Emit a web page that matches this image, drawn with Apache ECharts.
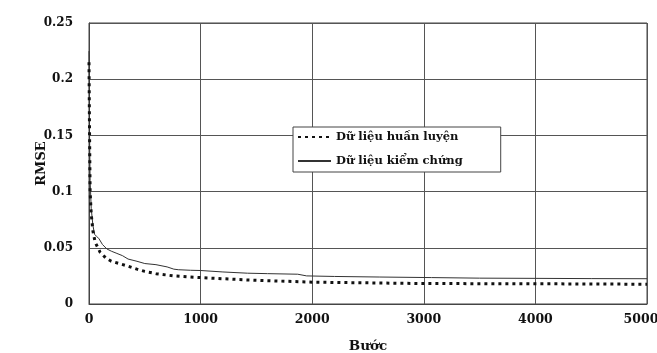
<!DOCTYPE html>
<html><head><meta charset="utf-8">
<script src="https://cdn.jsdelivr.net/npm/echarts@6/dist/echarts.min.js"></script>
<style>html,body{margin:0;padding:0;background:#fff}#c{width:657px;height:353px}</style>
</head><body><div id="c"></div>
<script>
const xTicks = [0, 1000, 2000, 3000, 4000, 5000];
const yTicks = [0, 0.05, 0.1, 0.15, 0.2, 0.25];
const seriesNames = ['Dữ liệu huấn luyện', 'Dữ liệu kiểm chứng'];
const trainSteps = [0, 5, 10, 20, 35, 55, 80, 100, 150, 200, 340, 430, 500, 600, 760, 1000, 1420, 2000, 3000, 4000, 5000];
const trainRmse = [0.215, 0.15, 0.1, 0.08, 0.065, 0.055, 0.05, 0.046, 0.041, 0.038, 0.034, 0.031, 0.029, 0.027, 0.025, 0.0235, 0.0214, 0.0194, 0.0182, 0.018, 0.0176];
const valSteps = [0, 5, 10, 20, 35, 50, 70, 90, 120, 160, 200, 250, 300, 350, 430, 500, 600, 700, 760, 800, 910, 1000, 1200, 1420, 1600, 1870, 1950, 2200, 2600, 3070, 3500, 4000, 4500, 5000];
const valRmse = [0.225, 0.15, 0.11, 0.085, 0.07, 0.062, 0.06, 0.058, 0.053, 0.049, 0.047, 0.045, 0.043, 0.04, 0.038, 0.036, 0.035, 0.033, 0.031, 0.0305, 0.030, 0.0298, 0.0285, 0.0274, 0.027, 0.0265, 0.025, 0.0245, 0.024, 0.0235, 0.023, 0.0228, 0.0226, 0.0225];

const font = '"DejaVu Serif", "Liberation Serif", serif';
const xMax = xTicks[xTicks.length - 1];
const chart = echarts.init(document.getElementById('c'), null, {renderer: 'canvas'});
chart.setOption({
  animation: false,
  backgroundColor: '#fff',
  grid: {left: 89, right: 10, top: 23, bottom: 49, show: true, borderColor: '#444', borderWidth: 1,
    containLabel: false, outerBoundsMode: 'none'},
  legend: {
    orient: 'vertical', left: 293, top: 127,
    padding: [4, 38, 5, 4], itemGap: 12, itemWidth: 33, itemHeight: 14,
    backgroundColor: '#fff', borderColor: '#444', borderWidth: 1,
    itemStyle: {opacity: 0},
    textStyle: {fontFamily: font, fontWeight: 'bold', fontSize: 11.5, color: '#111'},
    data: seriesNames
  },
  xAxis: {
    type: 'value', min: xTicks[0], max: xMax, interval: 1000,
    name: 'Bước', nameLocation: 'middle', nameGap: 35, nameMoveOverlap: false,
    nameTextStyle: {fontFamily: font, fontWeight: 'bold', fontSize: 13.5, color: '#111'},
    axisLine: {lineStyle: {color: '#444'}}, axisTick: {show: false},
    axisLabel: {fontFamily: font, fontWeight: 'bold', fontSize: 12.5, color: '#111', margin: 9,
      formatter: v => v === xMax ? '{r|' + v + '}' : String(v),
      rich: {r: {fontFamily: font, fontWeight: 'bold', fontSize: 12.5, color: '#111', padding: [0, 12, 0, 0]}}},
    splitLine: {show: true, lineStyle: {color: '#555', width: 1}}
  },
  yAxis: {
    type: 'value', min: yTicks[0], max: yTicks[yTicks.length - 1], interval: 0.05,
    name: 'RMSE', nameLocation: 'middle', nameGap: 41, nameRotate: 90, nameMoveOverlap: false,
    nameTextStyle: {fontFamily: font, fontWeight: 'bold', fontSize: 13, color: '#111'},
    axisLine: {show: true, lineStyle: {color: '#444'}}, axisTick: {show: false},
    axisLabel: {fontFamily: font, fontWeight: 'bold', fontSize: 12, color: '#111', margin: 16,
      formatter: v => String(+v.toFixed(2))},
    splitLine: {show: true, lineStyle: {color: '#555', width: 1}}
  },
  series: [
    {
      name: seriesNames[0], type: 'line', symbol: 'none', z: 3, color: '#111',
      data: trainSteps.map((s, i) => [s, trainRmse[i]]),
      lineStyle: {color: '#111', width: 3, type: [3, 4], cap: 'butt'}
    },
    {
      name: seriesNames[1], type: 'line', symbol: 'none', z: 2, color: '#333',
      data: valSteps.map((s, i) => [s, valRmse[i]]),
      lineStyle: {color: '#333', width: 1}
    }
  ]
});
</script></body></html>
